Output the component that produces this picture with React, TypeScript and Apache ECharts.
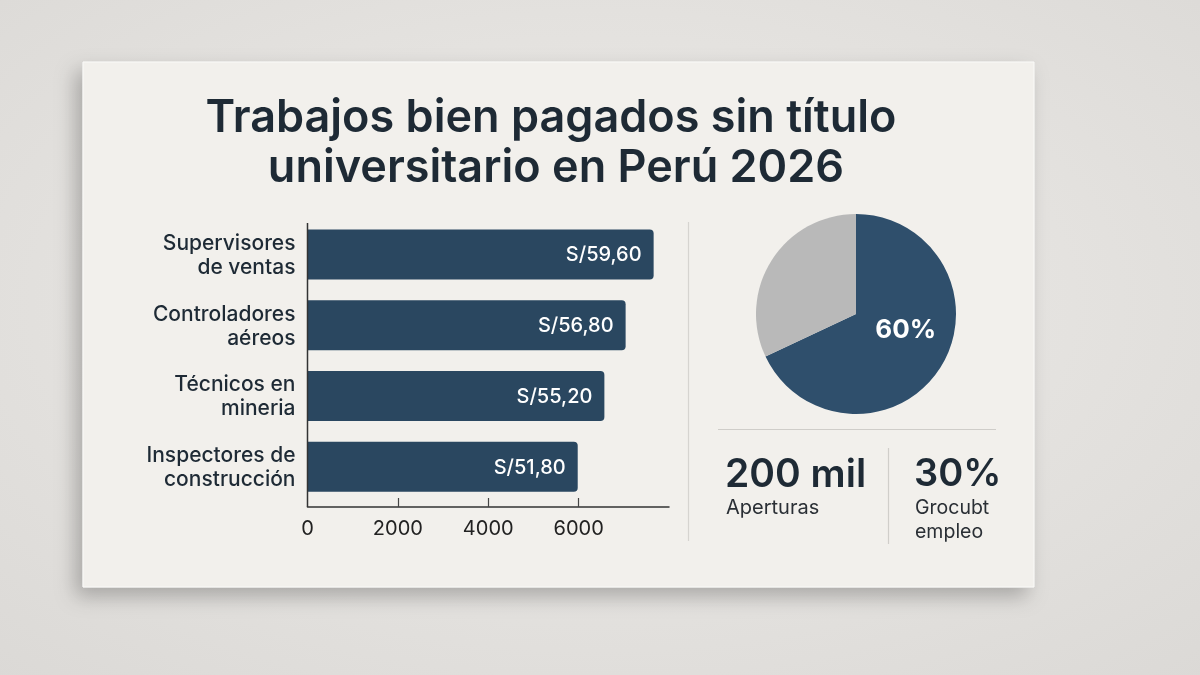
import React, { useEffect, useRef } from "react";
import * as echarts from "echarts";

const titleLines = ["Trabajos bien pagados sin título", "universitario en Perú 2026"];
const categories = [
  "Supervisores\nde ventas",
  "Controladores\naéreos",
  "Técnicos en\nmineria",
  "Inspectores de\nconstrucción",
];
const barValues = [7660, 7040, 6570, 5980];
const barLabels = ["S/59,60", "S/56,80", "S/55,20", "S/51,80"];
const xTickValues = [0, 2000, 4000, 6000];
const pieNames = ["Con empleo", "Otros"];
const pieValues = [68, 32];
const pieLabels = ["60%", ""];
const stats = [
  { value: "200 mil", label: "Aperturas" },
  { value: "30%", label: "Grocubt\nempleo" },
];

const FONT = "Inter, 'Noto Sans', sans-serif";
const INK = "#1e2a35";

export default function App() {
  const ref = useRef<HTMLDivElement>(null);
  useEffect(() => {
    if (!ref.current) return;
    const chart = echarts.init(ref.current, null, { renderer: "svg" });
    const option: any = {
      animation: false,
      textStyle: { fontFamily: FONT },
      graphic: [
        {
          type: "rect",
          z: -20,
          shape: { x: 0, y: 0, width: 1200, height: 675 },
          style: {
            fill: new echarts.graphic.RadialGradient(0.5, 0.45, 0.75, [
              { offset: 0, color: "#eeece9" },
              { offset: 1, color: "#dbd9d6" },
            ]),
          },
          silent: true,
        },
        {
          type: "rect",
          z: -10,
          shape: { x: 83, y: 62, width: 951, height: 525 },
          style: {
            fill: "#f2f0ec",
            stroke: "#fafaf8",
            lineWidth: 1,
            shadowBlur: 20,
            shadowOffsetX: -7,
            shadowOffsetY: 9,
            shadowColor: "rgba(0,0,0,0.25)",
          },
          silent: true,
        },
        {
          type: "text",
          z: 5,
          style: {
            text: titleLines[0],
            x: 551,
            y: 138,
            align: "center",
            verticalAlign: "bottom",
            font: `600 45px ${FONT}`,
            fill: INK,
          },
        },
        {
          type: "text",
          z: 5,
          style: {
            text: titleLines[1],
            x: 556,
            y: 188,
            align: "center",
            verticalAlign: "bottom",
            font: `600 45px ${FONT}`,
            fill: INK,
          },
        },
        {
          type: "line",
          z: 5,
          shape: { x1: 307.5, y1: 223, x2: 307.5, y2: 507 },
          style: { stroke: "#333", lineWidth: 1.5 },
        },
        {
          type: "line",
          z: 5,
          shape: { x1: 688.5, y1: 222, x2: 688.5, y2: 541 },
          style: { stroke: "#d6d4d0", lineWidth: 1.2 },
        },
        {
          type: "line",
          z: 5,
          shape: { x1: 718, y1: 429.5, x2: 996, y2: 429.5 },
          style: { stroke: "#cfcdc9", lineWidth: 1.2 },
        },
        {
          type: "line",
          z: 5,
          shape: { x1: 888.5, y1: 448, x2: 888.5, y2: 544 },
          style: { stroke: "#d0ceca", lineWidth: 1.2 },
        },
        {
          type: "text",
          z: 5,
          style: {
            text: stats[0].value,
            x: 725,
            y: 472,
            verticalAlign: "middle",
            font: `600 39px ${FONT}`,
            fill: INK,
          },
        },
        {
          type: "text",
          z: 5,
          style: {
            text: stats[0].label,
            x: 726,
            y: 507,
            verticalAlign: "middle",
            font: `400 20px ${FONT}`,
            fill: "#2a2f35",
          },
        },
        {
          type: "text",
          z: 5,
          style: {
            text: stats[1].value,
            x: 914,
            y: 472,
            verticalAlign: "middle",
            font: `600 38px ${FONT}`,
            fill: INK,
          },
        },
        {
          type: "text",
          z: 5,
          style: {
            text: stats[1].label,
            x: 915,
            y: 495,
            verticalAlign: "top",
            font: `400 19.5px ${FONT}`,
            lineHeight: 24,
            fill: "#2a2f35",
          },
        },
      ],
      grid: { left: 307.5, top: 219, width: 361.5, height: 283, containLabel: false },
      xAxis: {
        type: "value",
        min: 0,
        max: 8000,
        interval: 2000,
        offset: 5,
        axisLine: { show: true, lineStyle: { color: "#333", width: 1.5 } },
        axisTick: {
          show: true,
          inside: true,
          length: 9,
          lineStyle: { color: "#444", width: 1.2 },
          customValues: [2000, 4000, 6000],
        },
        axisLabel: {
          customValues: xTickValues,
          formatter: (v: number) => String(v),
          margin: 11,
          fontSize: 20,
          color: "#222",
          fontFamily: FONT,
        },
        splitLine: { show: false },
      },
      yAxis: {
        type: "category",
        inverse: true,
        data: categories,
        axisLine: { show: false },
        axisTick: { show: false },
        axisLabel: {
          margin: 12,
          fontSize: 21,
          lineHeight: 24,
          fontWeight: 500,
          color: INK,
          align: "right",
          fontFamily: FONT,
        },
      },
      series: [
        {
          type: "bar",
          data: barValues,
          barWidth: 50,
          clip: false,
          itemStyle: { color: "#2a4760", borderRadius: [0, 4, 4, 0] },
          label: {
            show: true,
            position: "insideRight",
            distance: 12,
            color: "#ffffff",
            fontSize: 20,
            fontWeight: 500,
            fontFamily: FONT,
            formatter: (p: any) => barLabels[p.dataIndex],
          },
        },
        {
          type: "pie",
          center: [856, 314],
          radius: 100,
          startAngle: 90,
          clockwise: true,
          data: pieNames.map((n, i) => ({
            name: n,
            value: pieValues[i],
            itemStyle: { color: i === 0 ? "#2f4f6c" : "#b9b9b9" },
          })),
          label: {
            show: true,
            position: "inside",
            color: "#ffffff",
            fontSize: 26,
            fontWeight: 700,
            fontFamily: FONT,
            formatter: (p: any) => pieLabels[p.dataIndex],
          },
          labelLayout: { dx: 5, dy: -14 },
          labelLine: { show: false },
          emphasis: { disabled: true },
        },
      ],
    };
    chart.setOption(option);
    return () => chart.dispose();
  }, []);
  return (
    <div
      ref={ref}
      style={{ position: "fixed", left: 0, top: 0, width: 1200, height: 675 }}
    />
  );
}
